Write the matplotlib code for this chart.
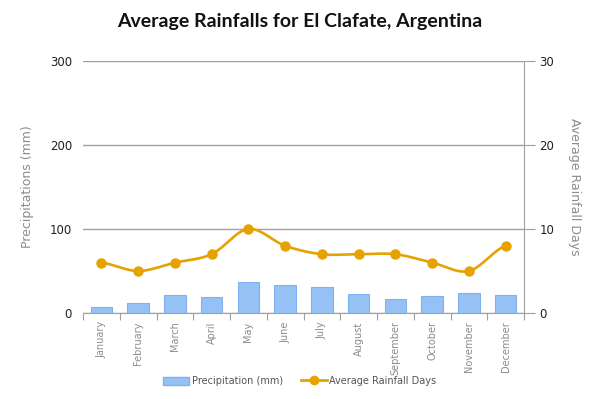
import numpy as np
import matplotlib
matplotlib.use("Agg")
import matplotlib.pyplot as plt
from matplotlib.lines import Line2D
from matplotlib.patches import Patch

months = ["January", "February", "March", "April", "May", "June", "July",
          "August", "September", "October", "November", "December"]
precip_mm = [7, 12, 21, 19, 37, 33, 31, 23, 17, 20, 24, 22]
rain_days = [6, 5, 6, 7, 10, 8, 7, 7, 7, 6, 5, 8]
left_ticks = [0, 100, 200, 300]
right_ticks = [0, 10, 20, 30]

BAR = "#96C1F5"
BAR_EDGE = "#7FB1F0"
LINE = "#E6A200"
GRID = "#A0A0A0"
TXT = "#8C8C8C"

fig = plt.figure(figsize=(6.0, 3.99), dpi=100)
ax = fig.add_axes([83/600, 1-313/399, (524-83)/600, (313-61)/399])
ax2 = ax.twinx()

x = np.arange(len(months))
ax.bar(x, precip_mm, width=0.58, color=BAR, edgecolor=BAR_EDGE, linewidth=0.8, zorder=3)
ax.set_xlim(-0.5, len(months) - 0.5)
ax.set_ylim(0, 300)
ax.set_yticks(left_ticks)
ax.set_yticklabels([str(t) for t in left_ticks])
ax.yaxis.grid(True, color=GRID, linewidth=1.0, zorder=0)
ax.set_axisbelow(True)

# smooth line (cubic Hermite spline through the data points)
def smooth(xs, ys, n=20):
    xs = np.asarray(xs, float); ys = np.asarray(ys, float)
    m = np.zeros_like(ys)
    m[1:-1] = (ys[2:] - ys[:-2]) / (xs[2:] - xs[:-2])
    m[0] = (ys[1] - ys[0]) / (xs[1] - xs[0]) * 0.5
    m[-1] = (ys[-1] - ys[-2]) / (xs[-1] - xs[-2]) * 0.5
    X, Y = [], []
    for i in range(len(xs) - 1):
        h = xs[i+1] - xs[i]
        s = np.linspace(0, 1, n, endpoint=False)
        h00 = 2*s**3 - 3*s**2 + 1
        h10 = s**3 - 2*s**2 + s
        h01 = -2*s**3 + 3*s**2
        h11 = s**3 - s**2
        X.extend(xs[i] + s*h)
        Y.extend(h00*ys[i] + h10*h*m[i] + h01*ys[i+1] + h11*h*m[i+1])
    X.append(xs[-1]); Y.append(ys[-1])
    return np.array(X), np.array(Y)

sx, sy = smooth(x, rain_days)
ax2.plot(sx, sy, color=LINE, linewidth=1.9, zorder=4, solid_capstyle="round")
ax2.plot(x, rain_days, linestyle="none", marker="o", markersize=6.5, color=LINE, zorder=5)
ax2.set_ylim(0, 30)
ax2.set_yticks(right_ticks)
ax2.set_yticklabels([str(t) for t in right_ticks])

# spines
for s in ["top", "left"]:
    ax.spines[s].set_visible(False)
    ax2.spines[s].set_visible(False)
ax.spines["right"].set_visible(False)
ax2.spines["bottom"].set_visible(False)
ax2.spines["right"].set_color(GRID)
ax.spines["bottom"].set_color(GRID)

# x ticks at category boundaries, labels at centers
ax.set_xticks(np.arange(-0.5, len(months) + 0.5, 1.0))
ax.set_xticklabels([])
ax.set_xticks(x, minor=True)
ax.set_xticklabels(months, minor=True, rotation=90, fontsize=7, color=TXT,
                   family="DejaVu Sans")
ax.tick_params(axis="x", which="major", length=5, color=GRID)
ax.tick_params(axis="x", which="minor", length=0, pad=6)
ax.tick_params(axis="y", length=0, pad=8, labelsize=8.5, labelcolor="#222222")
ax2.tick_params(axis="y", length=8, color=GRID, pad=3, labelsize=8.5, labelcolor="#222222")

ax.set_ylabel("Precipitations (mm)", color=TXT, fontsize=9, labelpad=11)
ax2.set_ylabel("Average Rainfall Days", color=TXT, fontsize=9, rotation=270, labelpad=19)

fig.text(0.5, 1-22/399, "Average Rainfalls for El Clafate, Argentina",
         ha="center", va="center", fontsize=14, fontweight="bold",
         family="Lato", color="#111111")

handles = [Patch(facecolor=BAR, edgecolor=BAR_EDGE, label="Precipitation (mm)"),
           Line2D([0], [0], color=LINE, linewidth=2.0, marker="o", markersize=6,
                  label="Average Rainfall Days")]
fig.legend(handles=handles, loc="center", bbox_to_anchor=(0.5, 1-381/399), ncol=2,
           frameon=False, fontsize=7, labelcolor="#555555", handlelength=2.6,
           handleheight=0.9, handletextpad=0.3, columnspacing=1.9)

fig.savefig("out.png", dpi=100)
